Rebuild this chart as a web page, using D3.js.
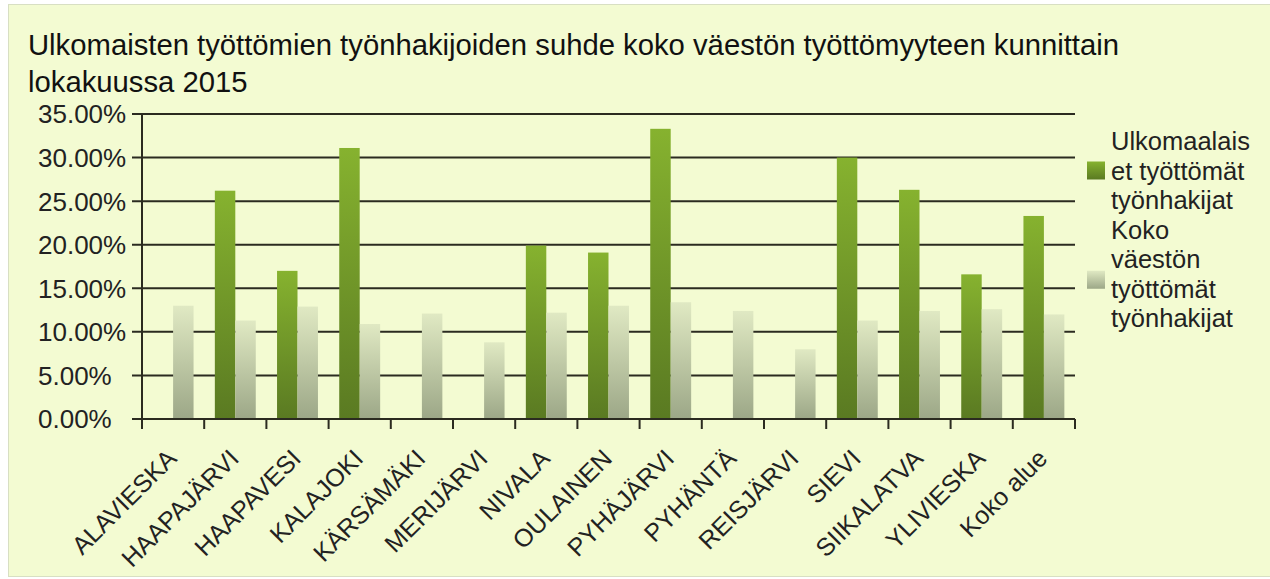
<!DOCTYPE html>
<html>
<head>
<meta charset="utf-8">
<script src="https://cdn.jsdelivr.net/npm/d3@7"></script>
<style>
  html, body { margin: 0; padding: 0; background: #fff; }
  svg { display: block; font-family: "Liberation Sans", Arial, sans-serif; }
</style>
</head>
<body>
<svg id="chart" width="1270" height="579"></svg>
<script>
// data (percent)
const categories = ["ALAVIESKA", "HAAPAJÄRVI", "HAAPAVESI", "KALAJOKI", "KÄRSÄMÄKI", "MERIJÄRVI",
  "NIVALA", "OULAINEN", "PYHÄJÄRVI", "PYHÄNTÄ", "REISJÄRVI", "SIEVI", "SIIKALATVA", "YLIVIESKA", "Koko alue"];
const foreignValues = [null, 26.2, 17.0, 31.1, null, null, 19.9, 19.1, 33.3, null, null, 30.0, 26.3, 16.6, 23.3];
const totalValues = [13.0, 11.3, 12.9, 10.9, 12.1, 8.8, 12.2, 13.0, 13.4, 12.4, 8.0, 11.3, 12.4, 12.6, 12.0];
const seriesKeys = ["foreign", "total"];
const yTicks = [0, 5, 10, 15, 20, 25, 30, 35];
const titleLines = ["Ulkomaisten työttömien työnhakijoiden suhde koko väestön työttömyyteen kunnittain", "lokakuussa 2015"];
const legendLines = [["Ulkomaalais", "et työttömät", "työnhakijat"], ["Koko", "väestön", "työttömät", "työnhakijat"]];

const svg = d3.select("#chart");
const defs = svg.append("defs");

function grad(id, c1, c2) {
  const g = defs.append("linearGradient").attr("id", id)
    .attr("x1", 0).attr("y1", 0).attr("x2", 0).attr("y2", 1);
  g.append("stop").attr("offset", "0%").attr("stop-color", c1);
  g.append("stop").attr("offset", "100%").attr("stop-color", c2);
}
grad("g-foreign", "#86b22f", "#5a7a22");
grad("g-total", "#e0e9c3", "#9ca787");

// background panel
svg.append("rect").attr("x", 8.5).attr("y", 4.5).attr("width", 1270).attr("height", 572)
  .attr("fill", "#f3fbd2").attr("stroke", "#d8dfc3");

// title (first line spans roughly 28..1119 in the original)
const title = svg.append("g").selectAll("text").data(titleLines).enter().append("text")
  .attr("x", 28).attr("y", (d, i) => 55 + i * 37)
  .attr("font-size", 28).attr("fill", "#111").text(d => d);
const w0 = title.node().getComputedTextLength();
title.attr("font-size", 28 * 1091 / w0);

const plotL = 142, plotR = 1075, plotT = 114, plotB = 419;

const x0 = d3.scaleBand().domain(categories).range([plotL, plotR]);
const x1 = d3.scaleBand().domain(seriesKeys).range([0, x0.bandwidth()]).paddingOuter(0.52);
const y = d3.scaleLinear().domain([0, 35]).range([plotB, plotT]);

// gridlines
svg.append("g").selectAll("line").data(yTicks).enter().append("line")
  .attr("x1", plotL - 10).attr("x2", plotR)
  .attr("y1", d => y(d)).attr("y2", d => y(d))
  .attr("stroke", "#2b2b20").attr("stroke-width", 2);

// y labels (left aligned in the original)
svg.append("g").selectAll("text").data(yTicks).enter().append("text")
  .attr("x", 38).attr("y", d => y(d)).attr("dy", "0.36em")
  .attr("font-size", 26).attr("fill", "#222")
  .text(d => d3.format(".2f")(d) + "%");

// bars
const groups = svg.append("g").selectAll("g").data(categories).enter().append("g")
  .attr("transform", d => `translate(${x0(d)},0)`);
groups.selectAll("rect")
  .data((d, i) => [{ key: "foreign", v: foreignValues[i] }, { key: "total", v: totalValues[i] }].filter(e => e.v != null))
  .enter().append("rect")
  .attr("x", d => x1(d.key)).attr("width", x1.bandwidth())
  .attr("y", d => y(d.v)).attr("height", d => y(0) - y(d.v))
  .attr("fill", d => `url(#g-${d.key})`);

// axis lines + ticks
svg.append("line").attr("x1", plotL).attr("x2", plotL).attr("y1", plotT).attr("y2", plotB + 10)
  .attr("stroke", "#2b2b20").attr("stroke-width", 2);
svg.append("line").attr("x1", plotL).attr("x2", plotR).attr("y1", plotB).attr("y2", plotB)
  .attr("stroke", "#2b2b20").attr("stroke-width", 2);
svg.append("g").selectAll("line").data(categories).enter().append("line")
  .attr("x1", d => x0(d) + x0.bandwidth()).attr("x2", d => x0(d) + x0.bandwidth())
  .attr("y1", plotB).attr("y2", plotB + 10)
  .attr("stroke", "#2b2b20").attr("stroke-width", 2);

// x labels
svg.append("g").selectAll("text").data(categories).enter().append("text")
  .attr("transform", d => `translate(${x0(d) + x0.bandwidth() / 2 + 5},${plotB + 41}) rotate(-45)`)
  .attr("text-anchor", "end").attr("font-size", 25).attr("fill", "#222")
  .text(d => d);

// legend
const legendColors = ["url(#g-foreign)", "url(#g-total)"];
let lineIdx = 0;
legendLines.forEach((lines, s) => {
  const first = lineIdx;
  lines.forEach(t => {
    svg.append("text").attr("x", 1111).attr("y", 150 + lineIdx * 29.5)
      .attr("font-size", 25.5).attr("fill", "#222").text(t);
    lineIdx++;
  });
  const mid = 150 + ((first + lineIdx - 1) / 2) * 29.5 - 9 + (s === 1 ? 6 : 0);
  svg.append("rect").attr("x", 1087).attr("y", mid - 9).attr("width", 18).attr("height", 18)
    .attr("fill", legendColors[s]);
});
</script>
</body>
</html>
